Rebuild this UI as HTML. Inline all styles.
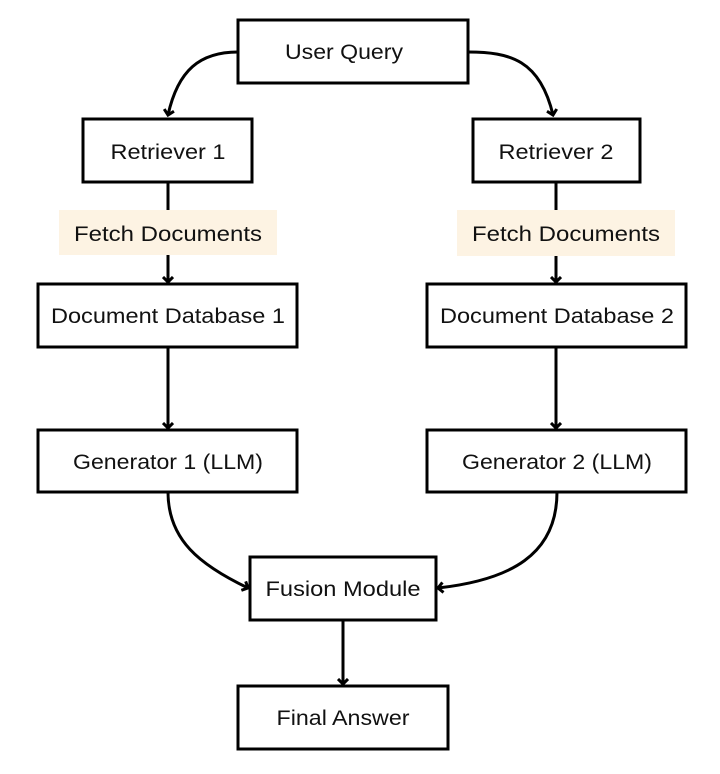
<!DOCTYPE html>
<html><head><meta charset="utf-8"><style>
html,body{margin:0;padding:0;background:#fff;}
svg{display:block;}
text{font-family:"Liberation Sans",sans-serif;font-size:21px;fill:#111;}
</style></head><body>
<svg width="720" height="774" viewBox="0 0 720 774" xmlns="http://www.w3.org/2000/svg">
<defs>
<marker id="a" markerWidth="12" markerHeight="12" refX="6" refY="6" orient="auto" markerUnits="userSpaceOnUse">
<path d="M1,1 L6,6 L1,11" fill="none" stroke="#000" stroke-width="3"/>
</marker>
</defs>
<g fill="none" stroke="#000" stroke-width="3">
<!-- connectors -->
<path d="M238,52 C200,52 178,70 168,115" marker-end="url(#a)"/>
<path d="M468,52 C510,52 540,60 553,115" marker-end="url(#a)"/>
<line x1="168" y1="182" x2="168" y2="282" marker-end="url(#a)"/>
<line x1="556" y1="182" x2="556" y2="282" marker-end="url(#a)"/>
<line x1="168" y1="347" x2="168" y2="428" marker-end="url(#a)"/>
<line x1="556" y1="347" x2="556" y2="428" marker-end="url(#a)"/>
<path d="M168,492 C168,540 200,565 248,588" marker-end="url(#a)"/>
<path d="M557,492 C557,555 510,580 438,588" marker-end="url(#a)"/>
<line x1="343" y1="620" x2="343" y2="684" marker-end="url(#a)"/>
</g>
<rect x="59" y="210" width="218" height="45" fill="#fdf3e3"/>
<rect x="457" y="210" width="218" height="46" fill="#fdf3e3"/>
<g fill="#fff" stroke="#000" stroke-width="3">
<rect x="238" y="20" width="230" height="63"/>
<rect x="83" y="119" width="169" height="63"/>
<rect x="473" y="119" width="167" height="63"/>
<rect x="38" y="284" width="259" height="63"/>
<rect x="427" y="284" width="259" height="63"/>
<rect x="38" y="430" width="259" height="62"/>
<rect x="427" y="430" width="259" height="62"/>
<rect x="250" y="557" width="186" height="63"/>
<rect x="238" y="686" width="210" height="63"/>
</g>
<g text-anchor="middle">
<text x="344" y="59" textLength="118" lengthAdjust="spacingAndGlyphs">User Query</text>
<text x="168" y="159" textLength="115" lengthAdjust="spacingAndGlyphs">Retriever 1</text>
<text x="556" y="159" textLength="115" lengthAdjust="spacingAndGlyphs">Retriever 2</text>
<text x="168" y="241" textLength="188" lengthAdjust="spacingAndGlyphs">Fetch Documents</text>
<text x="566" y="241" textLength="188" lengthAdjust="spacingAndGlyphs">Fetch Documents</text>
<text x="168" y="323" textLength="234" lengthAdjust="spacingAndGlyphs">Document Database 1</text>
<text x="557" y="323" textLength="234" lengthAdjust="spacingAndGlyphs">Document Database 2</text>
<text x="168" y="469" textLength="190" lengthAdjust="spacingAndGlyphs">Generator 1 (LLM)</text>
<text x="557" y="469" textLength="190" lengthAdjust="spacingAndGlyphs">Generator 2 (LLM)</text>
<text x="343" y="596" textLength="155" lengthAdjust="spacingAndGlyphs">Fusion Module</text>
<text x="343" y="725" textLength="133" lengthAdjust="spacingAndGlyphs">Final Answer</text>
</g>
</svg>
</body></html>
